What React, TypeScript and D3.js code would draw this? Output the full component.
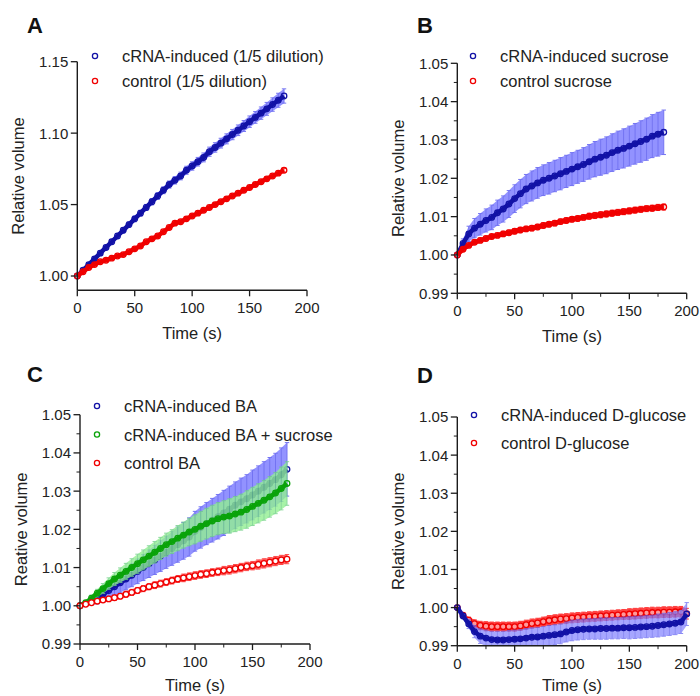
import React from 'react';
import * as d3 from 'd3';

const FONT = "'Liberation Sans', Arial, Helvetica, sans-serif";

// time grids (s)
const TIME_180 = [0, 5, 10, 15, 20, 25, 30, 35, 40, 45, 50, 55, 60, 65, 70, 75, 80, 85, 90, 95, 100, 105, 110, 115, 120, 125, 130, 135, 140, 145, 150, 155, 160, 165, 170, 175, 180];
const TIME_200 = [0, 5, 10, 15, 20, 25, 30, 35, 40, 45, 50, 55, 60, 65, 70, 75, 80, 85, 90, 95, 100, 105, 110, 115, 120, 125, 130, 135, 140, 145, 150, 155, 160, 165, 170, 175, 180, 185, 190, 195, 200];

const X_TICKS = [0, 50, 100, 150, 200];
const X_MINOR = [25, 75, 125, 175];
const Y_TICKS_A = [1.0, 1.05, 1.1, 1.15];
const Y_TICKS_BCD = [0.99, 1.0, 1.01, 1.02, 1.03, 1.04, 1.05];
const Y_MINOR_BCD = [0.995, 1.005, 1.015, 1.025, 1.035, 1.045];

// Panel A
const A_CRNA = [1.000, 1.004, 1.008, 1.012, 1.016, 1.020, 1.024, 1.028, 1.032, 1.036, 1.040, 1.044, 1.048, 1.052, 1.056, 1.060, 1.064, 1.067, 1.070, 1.074, 1.077, 1.080, 1.083, 1.087, 1.090, 1.093, 1.096, 1.099, 1.102, 1.105, 1.108, 1.111, 1.114, 1.117, 1.120, 1.123, 1.126];
const A_CRNA_SEM = [0, 0.0006, 0.001, 0.0012, 0.0014, 0.0015, 0.0016, 0.0017, 0.0018, 0.0019, 0.002, 0.002, 0.0021, 0.0022, 0.0023, 0.0024, 0.0025, 0.0026, 0.0027, 0.0028, 0.0029, 0.003, 0.0031, 0.0032, 0.0033, 0.0034, 0.0035, 0.0036, 0.0037, 0.0038, 0.004, 0.0041, 0.0043, 0.0045, 0.0047, 0.0049, 0.005];
const A_CTRL = [1.000, 1.003, 1.006, 1.008, 1.010, 1.011, 1.0125, 1.014, 1.015, 1.017, 1.019, 1.021, 1.024, 1.026, 1.028, 1.031, 1.034, 1.037, 1.038, 1.040, 1.042, 1.044, 1.046, 1.048, 1.050, 1.052, 1.054, 1.056, 1.058, 1.060, 1.062, 1.064, 1.066, 1.068, 1.070, 1.072, 1.074];
const A_CTRL_SEM = [0, 0.0005, 0.0007, 0.0008, 0.0008, 0.0009, 0.0009, 0.001, 0.001, 0.001, 0.001, 0.001, 0.001, 0.001, 0.001, 0.001, 0.0011, 0.0011, 0.0011, 0.0011, 0.0011, 0.0011, 0.0012, 0.0012, 0.0012, 0.0012, 0.0012, 0.0012, 0.0012, 0.0013, 0.0013, 0.0013, 0.0013, 0.0013, 0.0013, 0.0013, 0.0013];

// Panel B
const B_CRNA = [1.000, 1.003, 1.0055, 1.007, 1.008, 1.009, 1.0098, 1.011, 1.012, 1.0133, 1.0147, 1.016, 1.0172, 1.018, 1.0188, 1.0195, 1.020, 1.0206, 1.0212, 1.0218, 1.0224, 1.023, 1.0236, 1.0243, 1.025, 1.0255, 1.026, 1.0267, 1.0273, 1.0278, 1.0284, 1.029, 1.0296, 1.0302, 1.031, 1.0315, 1.032];
const B_CRNA_SEM = [0, 0.0012, 0.002, 0.0025, 0.0028, 0.003, 0.0032, 0.0033, 0.0034, 0.0035, 0.0036, 0.0037, 0.0038, 0.0039, 0.004, 0.004, 0.0041, 0.0041, 0.0042, 0.0042, 0.0043, 0.0043, 0.0044, 0.0045, 0.0046, 0.0047, 0.0048, 0.0049, 0.005, 0.0051, 0.0052, 0.0053, 0.0054, 0.0055, 0.0056, 0.0057, 0.0058];
const B_CTRL = [1.000, 1.0015, 1.0025, 1.0033, 1.0038, 1.0043, 1.0048, 1.0051, 1.0055, 1.0058, 1.0062, 1.0065, 1.0068, 1.007, 1.0073, 1.0077, 1.008, 1.0083, 1.0087, 1.009, 1.0093, 1.0095, 1.0098, 1.0101, 1.0103, 1.0105, 1.0107, 1.0109, 1.0111, 1.0113, 1.0115, 1.0117, 1.0119, 1.0121, 1.0122, 1.0124, 1.0125];
const B_CTRL_SEM = [0, 0.0004, 0.0005, 0.0005, 0.0006, 0.0006, 0.0006, 0.0006, 0.0007, 0.0007, 0.0007, 0.0007, 0.0007, 0.0007, 0.0007, 0.0007, 0.0007, 0.0007, 0.0007, 0.0007, 0.0007, 0.0007, 0.0007, 0.0008, 0.0008, 0.0008, 0.0008, 0.0008, 0.0008, 0.0008, 0.0008, 0.0008, 0.0008, 0.0008, 0.0008, 0.0008, 0.0008];

// Panel C
const C_BA = [1.000, 1.0006, 1.0013, 1.002, 1.003, 1.004, 1.005, 1.006, 1.007, 1.008, 1.009, 1.010, 1.011, 1.012, 1.013, 1.014, 1.015, 1.016, 1.017, 1.018, 1.0195, 1.0205, 1.0215, 1.0224, 1.0233, 1.0243, 1.0253, 1.0263, 1.0272, 1.028, 1.029, 1.030, 1.031, 1.032, 1.033, 1.0343, 1.0357];
const C_BA_SEM = [0, 0.0005, 0.001, 0.0015, 0.002, 0.0022, 0.0024, 0.0026, 0.0028, 0.003, 0.0032, 0.0034, 0.0036, 0.0038, 0.004, 0.0042, 0.0044, 0.0046, 0.0048, 0.005, 0.0052, 0.0054, 0.0055, 0.0057, 0.0058, 0.0059, 0.006, 0.0061, 0.0062, 0.0063, 0.0065, 0.0066, 0.0067, 0.0068, 0.0069, 0.007, 0.007];
const C_BA_SUC = [1.000, 1.0008, 1.002, 1.0033, 1.0045, 1.0058, 1.007, 1.008, 1.009, 1.010, 1.011, 1.012, 1.013, 1.014, 1.015, 1.016, 1.0168, 1.0177, 1.0185, 1.0193, 1.020, 1.0208, 1.0215, 1.0222, 1.0228, 1.0232, 1.0235, 1.024, 1.0245, 1.0252, 1.026, 1.0268, 1.0276, 1.0285, 1.0295, 1.0307, 1.032];
const C_BA_SUC_SEM = [0, 0.0004, 0.0008, 0.001, 0.0013, 0.0015, 0.0017, 0.0019, 0.0021, 0.0023, 0.0025, 0.0026, 0.0027, 0.0028, 0.0029, 0.003, 0.0031, 0.0033, 0.0034, 0.0036, 0.0038, 0.0039, 0.004, 0.0041, 0.0042, 0.0043, 0.0045, 0.0046, 0.0047, 0.0049, 0.005, 0.0051, 0.0052, 0.0053, 0.0054, 0.0056, 0.0057];
const C_CTRL = [1.000, 1.0004, 1.0008, 1.0012, 1.0015, 1.0018, 1.0021, 1.0025, 1.003, 1.0035, 1.004, 1.0045, 1.005, 1.0054, 1.0058, 1.0062, 1.0066, 1.007, 1.0073, 1.0076, 1.0079, 1.0082, 1.0084, 1.0087, 1.0089, 1.0092, 1.0094, 1.0097, 1.010, 1.0103, 1.0105, 1.0108, 1.0111, 1.0114, 1.0117, 1.012, 1.0122];
const C_CTRL_SEM = [0, 0.0004, 0.0005, 0.0006, 0.0006, 0.0007, 0.0007, 0.0007, 0.0008, 0.0008, 0.0008, 0.0008, 0.0008, 0.0009, 0.0009, 0.0009, 0.0009, 0.0009, 0.001, 0.001, 0.001, 0.001, 0.001, 0.001, 0.001, 0.0011, 0.0011, 0.0011, 0.0011, 0.0011, 0.0011, 0.0012, 0.0012, 0.0012, 0.0012, 0.0012, 0.0012];

// Panel D
const D_CRNA = [1.000, 0.9978, 0.9957, 0.9937, 0.9925, 0.992, 0.9916, 0.9915, 0.9915, 0.9916, 0.9917, 0.9918, 0.992, 0.9922, 0.9923, 0.9925, 0.9927, 0.9929, 0.9931, 0.9936, 0.994, 0.9942, 0.9943, 0.9944, 0.9944, 0.9945, 0.9945, 0.9946, 0.9946, 0.9947, 0.9947, 0.9948, 0.9949, 0.995, 0.9951, 0.9953, 0.9955, 0.9957, 0.9959, 0.9962, 0.9983];
const D_CRNA_SEM = [0, 0.0006, 0.0012, 0.0016, 0.0019, 0.0021, 0.0022, 0.0023, 0.0023, 0.0024, 0.0024, 0.0024, 0.0025, 0.0025, 0.0025, 0.0025, 0.0026, 0.0026, 0.0026, 0.0026, 0.0027, 0.0027, 0.0027, 0.0027, 0.0027, 0.0028, 0.0028, 0.0028, 0.0028, 0.0028, 0.0029, 0.0029, 0.0029, 0.0029, 0.0029, 0.003, 0.003, 0.003, 0.003, 0.003, 0.003];
const D_CTRL = [1.000, 0.998, 0.9967, 0.9958, 0.9953, 0.9951, 0.995, 0.995, 0.995, 0.995, 0.995, 0.9952, 0.9955, 0.9958, 0.996, 0.9963, 0.9966, 0.9968, 0.997, 0.9971, 0.9973, 0.9974, 0.9975, 0.9976, 0.9977, 0.9978, 0.9979, 0.998, 0.9981, 0.9982, 0.9983, 0.9984, 0.9985, 0.9986, 0.9987, 0.9987, 0.9988, 0.9988, 0.9989, 0.9989, 0.9984];
const D_CTRL_SEM = [0, 0.0005, 0.0008, 0.001, 0.0011, 0.0012, 0.0012, 0.0012, 0.0012, 0.0012, 0.0012, 0.0012, 0.0012, 0.0012, 0.0012, 0.0012, 0.0013, 0.0013, 0.0013, 0.0013, 0.0013, 0.0013, 0.0013, 0.0013, 0.0013, 0.0013, 0.0013, 0.0013, 0.0013, 0.0013, 0.0014, 0.0014, 0.0014, 0.0014, 0.0014, 0.0014, 0.0014, 0.0014, 0.0014, 0.0014, 0.0014];

const BLUE = { stroke: '#1212a6', band: '#8080ff', bar: '#5c5cf0', bandOpacity: 0.85, fill: 'none' };
const RED = { stroke: '#f00000', band: '#ff4a4a', bar: '#ff2a2a', bandOpacity: 0.85, fill: 'none' };
const GREEN = { stroke: '#0aa30a', band: '#92f092', bar: '#6fcf86', bandOpacity: 0.8, fill: 'none' };

type Series = {
  name: string; t: number[]; v: number[]; e: number[];
  stroke: string; band: string; bar: string; bandOpacity: number; fill: string;
  legendIndex: number; lineW: number;
};

type PanelProps = {
  id: string; letter: string; letterX: number; letterY: number;
  left: number; right: number; top: number; bottom: number;
  yMin: number; yMax: number; yTicks: number[]; yMinor: number[]; xMinor: number[];
  yTitle: string; titleGap: number; series: Series[];
  legendX: number; legendY: number; legendStep: number;
};

function Panel(p: PanelProps) {
  const x = d3.scaleLinear().domain([0, 200]).range([p.left, p.right]);
  const y = d3.scaleLinear().domain([p.yMin, p.yMax]).range([p.bottom, p.top]);
  const ink = '#1c1c1c';
  const clip = `clip-${p.id}`;
  const legend = [...p.series].sort((a, b) => a.legendIndex - b.legendIndex);
  return (
    <g>
      <defs>
        <clipPath id={clip}>
          <rect x={p.left - 6} y={p.top - 10} width={p.right - p.left + 12} height={p.bottom - p.top + 10} />
        </clipPath>
      </defs>
      <text x={p.letterX} y={p.letterY} fontFamily={FONT} fontWeight="bold" fontSize={22} fill="#111">{p.letter}</text>
      <g clipPath={`url(#${clip})`}>
        {p.series.map((s, si) => {
          const idx = s.t.map((_, i) => i);
          const area = d3.area<number>()
            .x(i => x(s.t[i]))
            .y0(i => y(s.v[i] - s.e[i]))
            .y1(i => y(s.v[i] + s.e[i]))(idx) || '';
          const line = d3.line<number>().x(i => x(s.t[i])).y(i => y(s.v[i]))(idx) || '';
          return (
            <g key={'s' + si}>
              <g opacity={s.bandOpacity}>
                <path d={area} fill={s.band} />
                {idx.filter(i => s.e[i] > 0).map(i => {
                  const cx = x(s.t[i]);
                  const y1 = y(s.v[i] + s.e[i]);
                  const y2 = y(s.v[i] - s.e[i]);
                  return (
                    <g key={i} stroke={s.bar} strokeWidth={1}>
                      <line x1={cx} x2={cx} y1={y1} y2={y2} />
                      <line x1={cx - 2.2} x2={cx + 2.2} y1={y1} y2={y1} />
                      <line x1={cx - 2.2} x2={cx + 2.2} y1={y2} y2={y2} />
                    </g>
                  );
                })}
              </g>
              {s.lineW > 0 && <path d={line} fill="none" stroke={s.stroke} strokeWidth={s.lineW} strokeLinejoin="round" />}
              {idx.map(i => (
                <circle key={i} cx={x(s.t[i])} cy={y(s.v[i])} r={2.8} fill={s.fill} stroke={s.stroke} strokeWidth={1.3} />
              ))}
            </g>
          );
        })}
      </g>
      {/* axes */}
      <line x1={p.left} x2={p.left} y1={p.top} y2={p.bottom} stroke={ink} strokeWidth={1.4} />
      <line x1={p.left} x2={p.right} y1={p.bottom} y2={p.bottom} stroke={ink} strokeWidth={1.4} />
      {p.yTicks.map(t => (
        <g key={'yt' + t}>
          <line x1={p.left - 6.5} x2={p.left} y1={y(t)} y2={y(t)} stroke={ink} strokeWidth={1.3} />
          <text x={p.left - 9} y={y(t) + 5.4} textAnchor="end" fontFamily={FONT} fontSize={15} fill="#222">{t.toFixed(2)}</text>
        </g>
      ))}
      {p.yMinor.map(t => (
        <line key={'ym' + t} x1={p.left - 3.5} x2={p.left} y1={y(t)} y2={y(t)} stroke={ink} strokeWidth={1} />
      ))}
      {X_TICKS.map(t => (
        <g key={'xt' + t}>
          <line x1={x(t)} x2={x(t)} y1={p.bottom} y2={p.bottom + 6} stroke={ink} strokeWidth={1.3} />
          <text x={x(t)} y={p.bottom + 23} textAnchor="middle" fontFamily={FONT} fontSize={15} fill="#222">{t}</text>
        </g>
      ))}
      {p.xMinor.map(t => (
        <line key={'xm' + t} x1={x(t)} x2={x(t)} y1={p.bottom} y2={p.bottom + 3.5} stroke={ink} strokeWidth={1} />
      ))}
      <text x={(p.left + p.right) / 2} y={p.bottom + p.titleGap} textAnchor="middle" fontFamily={FONT} fontSize={16.5} fill="#222">Time (s)</text>
      <text transform={`translate(${p.left - 53},${(p.top + p.bottom) / 2}) rotate(-90)`} textAnchor="middle" fontFamily={FONT} fontSize={16.5} fill="#222">{p.yTitle}</text>
      {/* legend */}
      {legend.map((s, i) => (
        <g key={'lg' + i}>
          <circle cx={p.legendX} cy={p.legendY + i * p.legendStep} r={2.6} fill="white" stroke={s.stroke} strokeWidth={1.3} />
          <text x={p.legendX + 27} y={p.legendY + i * p.legendStep + 6} fontFamily={FONT} fontSize={16.5} fill="#222">{s.name}</text>
        </g>
      ))}
    </g>
  );
}

export default function App() {
  const seriesA: Series[] = [
    { name: 'cRNA-induced (1/5 dilution)', t: TIME_180, v: A_CRNA, e: A_CRNA_SEM, ...BLUE, legendIndex: 0, lineW: 4.5 },
    { name: 'control (1/5 dilution)', t: TIME_180, v: A_CTRL, e: A_CTRL_SEM, ...RED, legendIndex: 1, lineW: 4.5 },
  ];
  const seriesB: Series[] = [
    { name: 'cRNA-induced sucrose', t: TIME_180, v: B_CRNA, e: B_CRNA_SEM, ...BLUE, legendIndex: 0, lineW: 4.5 },
    { name: 'control sucrose', t: TIME_180, v: B_CTRL, e: B_CTRL_SEM, ...RED, legendIndex: 1, lineW: 4.5 },
  ];
  const seriesC: Series[] = [
    { name: 'cRNA-induced BA', t: TIME_180, v: C_BA, e: C_BA_SEM, ...BLUE, legendIndex: 0, lineW: 4.5 },
    { name: 'cRNA-induced BA + sucrose', t: TIME_180, v: C_BA_SUC, e: C_BA_SUC_SEM, ...GREEN, legendIndex: 1, lineW: 4.5 },
    { name: 'control BA', t: TIME_180, v: C_CTRL, e: C_CTRL_SEM, ...RED, fill: 'white', legendIndex: 2, lineW: 0 },
  ];
  const seriesD: Series[] = [
    { name: 'control D-glucose', t: TIME_200, v: D_CTRL, e: D_CTRL_SEM, ...RED, band: '#ff3030', bandOpacity: 0.9, fill: '#ff9a9a', legendIndex: 1, lineW: 0 },
    { name: 'cRNA-induced D-glucose', t: TIME_200, v: D_CRNA, e: D_CRNA_SEM, ...BLUE, bandOpacity: 0.7, legendIndex: 0, lineW: 4.5 },
  ];
  return (
    <svg width={700} height={696} style={{ position: 'absolute', left: 0, top: 0, background: 'white' }}>
      <rect x={0} y={0} width={700} height={696} fill="white" />
      <Panel id="A" letter="A" letterX={27} letterY={33} left={77.3} right={307} top={61.7} bottom={290.3}
        yMin={0.99} yMax={1.15} yTicks={Y_TICKS_A} yMinor={[]} xMinor={[]}
        yTitle="Relative volume" titleGap={49} series={seriesA} legendX={95} legendY={56} legendStep={25} />
      <Panel id="B" letter="B" letterX={417} letterY={33} left={457.3} right={686.7} top={63.3} bottom={293.3}
        yMin={0.99} yMax={1.05} yTicks={Y_TICKS_BCD} yMinor={Y_MINOR_BCD} xMinor={X_MINOR}
        yTitle="Relative volume" titleGap={49} series={seriesB} legendX={473} legendY={56} legendStep={25} />
      <Panel id="C" letter="C" letterX={27} letterY={382} left={80} right={310} top={414.7} bottom={644}
        yMin={0.99} yMax={1.05} yTicks={Y_TICKS_BCD} yMinor={Y_MINOR_BCD} xMinor={X_MINOR}
        yTitle="Reative volume" titleGap={47} series={seriesC} legendX={97} legendY={406} legendStep={28.5} />
      <Panel id="D" letter="D" letterX={417} letterY={383} left={457.3} right={686.7} top={417} bottom={645.7}
        yMin={0.99} yMax={1.05} yTicks={Y_TICKS_BCD} yMinor={Y_MINOR_BCD} xMinor={X_MINOR}
        yTitle="Relative volume" titleGap={45.5} series={seriesD} legendX={474} legendY={415} legendStep={28} />
    </svg>
  );
}
